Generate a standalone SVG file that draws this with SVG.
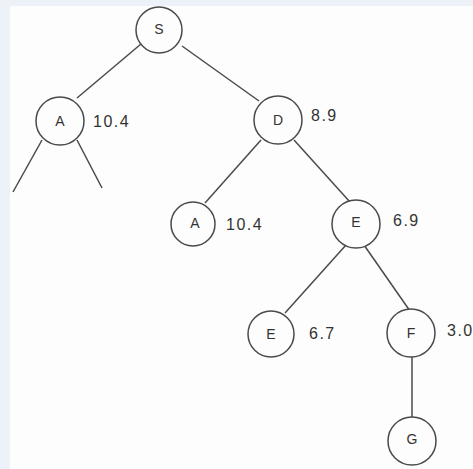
<svg xmlns="http://www.w3.org/2000/svg" width="473" height="469" viewBox="0 0 473 469">
<style>
.n{fill:#fdfdfd;stroke:#4a4a4a;stroke-width:1.5}
.l{font-family:"Liberation Sans",Arial,sans-serif;font-size:14px;fill:#333;text-anchor:middle;dominant-baseline:central}
.v{font-family:"Liberation Sans",Arial,sans-serif;font-size:16px;letter-spacing:1.5px;fill:#333;dominant-baseline:central}
.e{stroke:#4a4a4a;stroke-width:1.5;fill:none}
</style>
<rect width="473" height="469" fill="#edf2f9"/>
<rect x="10" y="6" width="463" height="463" fill="#fdfdfd"/>
<g id="connectors">
<line class="e" x1="141" y1="44" x2="77" y2="98"/>
<line class="e" x1="182" y1="46" x2="259" y2="101"/>
<line class="e" x1="42" y1="140" x2="13" y2="192"/>
<line class="e" x1="77" y1="140" x2="102" y2="188"/>
<line class="e" x1="261" y1="140" x2="205" y2="203"/>
<line class="e" x1="294" y1="140" x2="350" y2="202"/>
<line class="e" x1="346" y1="245" x2="285" y2="313"/>
<line class="e" x1="364" y1="245" x2="410" y2="311"/>
<line class="e" x1="412" y1="357" x2="412" y2="418"/>
</g>
<g id="S"><circle class="n" cx="159" cy="30" r="23"/><text class="l" x="159" y="29">S</text></g>
<g id="A1"><circle class="n" cx="60" cy="121" r="24"/><text class="l" x="60" y="121">A</text><text class="v" x="93" y="121">10.4</text></g>
<g id="D"><circle class="n" cx="278" cy="120" r="24"/><text class="l" x="278" y="120">D</text><text class="v" x="311" y="115">8.9</text></g>
<g id="A2"><circle class="n" cx="193" cy="224" r="22"/><text class="l" x="195" y="223">A</text><text class="v" x="226" y="224">10.4</text></g>
<g id="E1"><circle class="n" cx="356" cy="224" r="24"/><text class="l" x="356" y="222">E</text><text class="v" x="393" y="220">6.9</text></g>
<g id="E2"><circle class="n" cx="271" cy="334" r="23"/><text class="l" x="271" y="334">E</text><text class="v" x="309" y="333">6.7</text></g>
<g id="F"><circle class="n" cx="411" cy="333" r="24"/><text class="l" x="411" y="333">F</text><text class="v" x="447" y="330">3.0</text></g>
<g id="G"><circle class="n" cx="412" cy="441" r="24"/><text class="l" x="412" y="439">G</text></g>
</svg>
